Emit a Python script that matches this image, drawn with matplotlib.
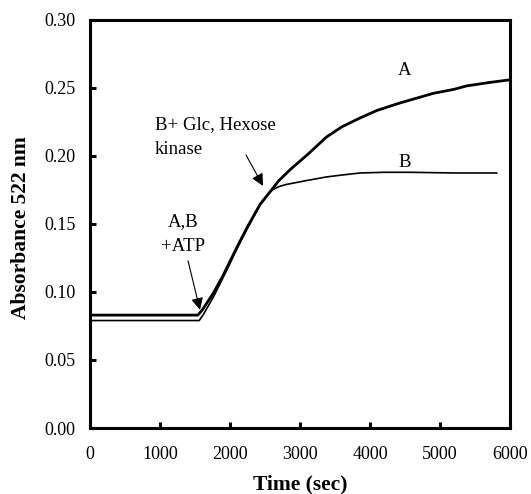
import matplotlib
matplotlib.use("Agg")
import matplotlib.pyplot as plt
import numpy as np

plt.rcParams['font.family'] = ['Liberation Serif', 'DejaVu Serif']

# trace A (glucose + hexokinase added at start)
time_a = [0, 1540, 1600, 1760, 1900, 2000, 2120, 2240, 2430, 2570, 2700, 2860, 3100, 3380,
          3600, 3860, 4100, 4430, 4700, 4900, 5200, 5380, 5700, 6000]
abs_a = [0.083, 0.083, 0.0865, 0.099, 0.112, 0.1225, 0.135, 0.147, 0.1645, 0.1735, 0.182, 0.190,
         0.2007, 0.214, 0.2215, 0.228, 0.2335, 0.239, 0.243, 0.246, 0.249, 0.2515, 0.254, 0.256]

# trace B (glucose + hexokinase added later)
time_b = [0, 1560, 1620, 1770, 1900, 2000, 2120, 2240, 2430, 2570, 2620, 2700, 2800, 2900,
          3100, 3380, 3600, 3860, 4200, 4570, 5200, 5810]
abs_b = [0.079, 0.079, 0.0835, 0.097, 0.1105, 0.121, 0.134, 0.146, 0.1640, 0.1735, 0.1755, 0.1775,
         0.179, 0.180, 0.182, 0.1846, 0.186, 0.1875, 0.188, 0.188, 0.1875, 0.1875]

fig = plt.figure(figsize=(5.31, 4.94), dpi=100)
ax = fig.add_axes([0.1695, 0.1336, 0.791, 0.826])

ax.plot(time_a, abs_a, color='black', lw=2.0)
ax.plot(time_b, abs_b, color='black', lw=1.2)

ax.set_xlim(0, 6000)
ax.set_ylim(0, 0.30)
ax.set_xticks(np.arange(0, 6001, 1000))
ax.set_yticks(np.arange(0, 0.301, 0.05))
ax.set_yticklabels(["%.2f" % v for v in np.arange(0, 0.301, 0.05)])

for s in ax.spines.values():
    s.set_linewidth(2.2)
ax.tick_params(direction='in', length=4, width=2.2, labelsize=13,
               top=False, right=False)
ax.tick_params(axis='y', pad=10.5)
ax.tick_params(axis='x', pad=13)

ax.set_xlabel("Time (sec)", fontsize=15.5, fontweight='bold')
ax.set_ylabel("Absorbance 522 nm", fontsize=15.5, fontweight='bold')
ax.xaxis.set_label_coords(0.5, -0.115)
ax.yaxis.set_label_coords(-0.14, 0.49)

arrow = dict(arrowstyle='-|>', color='black', lw=0.8, mutation_scale=18,
             shrinkA=0, shrinkB=0)
ax.text(1329, 0.1515, "A,B", ha='center', va='center', fontsize=13.5)
ax.text(1329, 0.1338, "+ATP", ha='center', va='center', fontsize=13.5)
ax.annotate("", xy=(1571, 0.0868), xytext=(1400, 0.123), arrowprops=arrow)

ax.text(930, 0.2228, "B+ Glc, Hexose", ha='left', va='center', fontsize=13.5)
ax.text(930, 0.2051, "kinase", ha='left', va='center', fontsize=13.5)
ax.annotate("", xy=(2471, 0.178), xytext=(2229, 0.2007), arrowprops=arrow)

ax.text(4500, 0.263, "A", ha='center', va='center', fontsize=13.5)
ax.text(4500, 0.195, "B", ha='center', va='center', fontsize=13.5)

fig.savefig("out.png", dpi=100)
